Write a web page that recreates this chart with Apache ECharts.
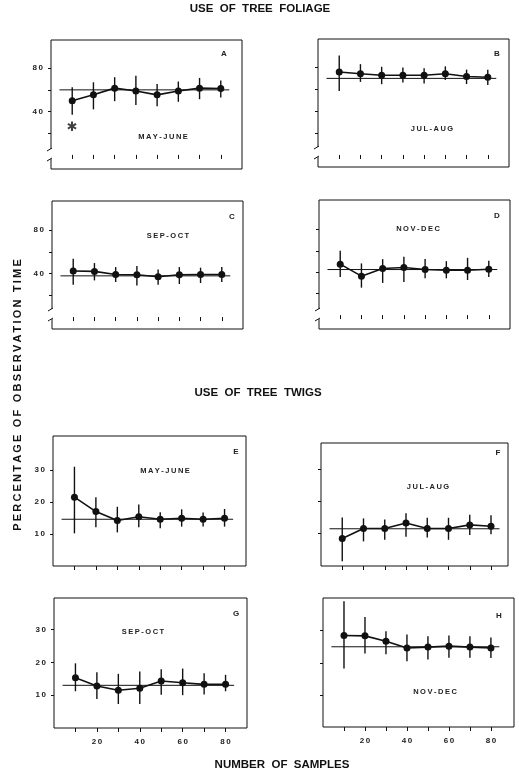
<!DOCTYPE html>
<html><head><meta charset="utf-8">
<script src="https://cdn.jsdelivr.net/npm/echarts@6/dist/echarts.min.js"></script>
<style>html,body{margin:0;padding:0;background:#fff}#c{width:519px;height:775px}</style>
</head><body><div id="c"></div>
<script>
// ---------- DATA ----------
const samples = [10, 20, 30, 40, 50, 60, 70, 80];
const panelIds = ['A', 'B', 'C', 'D', 'E', 'F', 'G', 'H'];
const periods = ['MAY-JUNE', 'JUL-AUG', 'SEP-OCT', 'NOV-DEC', 'MAY-JUNE', 'JUL-AUG', 'SEP-OCT', 'NOV-DEC'];

const meanA = [50, 55.4, 61.6, 59, 55.4, 59, 61.6, 61.2];
const lowA  = [37, 42, 49.6, 46, 45, 49, 51.4, 53];
const highA = [62.5, 67, 71.7, 73, 65.5, 67.7, 71, 68.6];

const meanB = [75.8, 74.3, 72.8, 72.8, 72.8, 74.3, 71.7, 71.1];
const lowB  = [58.5, 66.8, 64.7, 66.3, 65.4, 68.6, 64.8, 64];
const highB = [91, 83, 80.6, 79.9, 79.3, 81, 78, 78];

const meanC = [42.4, 42.1, 39.3, 39, 37.2, 39, 39.3, 39.3];
const lowC  = [29.8, 33.8, 32.3, 29.2, 29.9, 30.5, 31.4, 32.3];
const highC = [53.8, 49.8, 46.1, 47, 43.9, 46.1, 45.5, 46.1];

const meanD = [47.5, 36.3, 43.4, 44.4, 42.5, 41.9, 41.9, 42.8];
const lowD  = [35.6, 25.6, 30, 30.9, 34.3, 34.3, 32.7, 35.6];
const highD = [60, 48.2, 52.2, 54.4, 52.4, 50.3, 53.4, 50.6];

const meanE = [21.5, 17, 14.2, 15.4, 14.6, 14.9, 14.6, 14.9];
const lowE  = [10.2, 12.1, 10.5, 12.1, 11.8, 12.3, 12.3, 12.3];
const highE = [31, 21.5, 18.5, 19.2, 16.8, 17.7, 16.7, 17.8];

const meanF = [8.5, 11.6, 11.6, 13.3, 11.6, 11.6, 12.7, 12.3];
const lowF  = [1.5, 7.6, 8.1, 9, 8.8, 8.1, 9.6, 9.8];
const highF = [15, 14.7, 14.4, 16.3, 14.9, 14.9, 15.8, 15.7];

const meanG = [15.3, 12.8, 11.5, 12.1, 14.3, 13.8, 13.3, 13.3];
const lowG  = [11.2, 8.8, 7.3, 7.3, 10.1, 10, 10.2, 11.2];
const highG = [19.7, 17, 16.5, 17.2, 17.9, 18.1, 16.7, 16.2];

const meanH = [28.5, 28.4, 26.7, 24.6, 24.9, 25.2, 24.9, 24.6];
const lowH  = [18.2, 22.9, 22.7, 20.5, 21, 21.6, 21.6, 21.5];
const highH = [39.2, 34.3, 29.8, 28.8, 28.3, 28.5, 28.3, 27.9];

const overallMean = [60, 70, 38, 42.5, 14.6, 11.5, 13, 25];
const refLineSpan = [4, 84];
const asteriskPoint = [10, 25];

const foliageTicks = [20, 40, 60, 80];
const foliageLabels = [40, 80];
const twigTicks = [10, 20, 30];
const twigLabels = [10, 20, 30];
const sampleLabels = [20, 40, 60, 80];

const means = [meanA, meanB, meanC, meanD, meanE, meanF, meanG, meanH];
const lows = [lowA, lowB, lowC, lowD, lowE, lowF, lowG, lowH];
const highs = [highA, highB, highC, highD, highE, highF, highG, highH];

// ---------- LAYOUT ----------
const layout = [
  {l:51,  t:40,  w:191, h:129, ymin:-13, ymax:106,   xmax:90, lbl:[224,54],  per:[163,137], foliage:true, yl:true,  xl:false},
  {l:318, t:39,  w:191, h:128, ymin:-11, ymax:106,   xmax:90, lbl:[497,54],  per:[432,129], foliage:true, yl:false, xl:false},
  {l:52,  t:201, w:191, h:128, ymin:-11, ymax:107,   xmax:90, lbl:[232,217], per:[168,236], foliage:true, yl:true,  xl:false},
  {l:319, t:200, w:191, h:129, ymin:-13, ymax:107.4, xmax:90, lbl:[497,216], per:[418,229], foliage:true, yl:false, xl:false},
  {l:53,  t:436, w:193, h:130, ymin:0,   ymax:40.6,  xmax:90, lbl:[236,452], per:[165,471], foliage:false, yl:true,  xl:false},
  {l:321, t:443, w:187, h:123, ymin:0,   ymax:38,    xmax:88, lbl:[498,453], per:[428,487], foliage:false, yl:false, xl:false},
  {l:54,  t:598, w:193, h:130, ymin:0,   ymax:39.6,  xmax:90, lbl:[236,614], per:[143,632], foliage:false, yl:true,  xl:true},
  {l:323, t:598, w:191, h:129, ymin:0,   ymax:40.2,  xmax:91, lbl:[499,616], per:[435,692], foliage:false, yl:false, xl:true}
];

const FONT = 'Liberation Sans';
const INK = '#111';
const sp = (s) => s.split('').join('\u2009');

const grids = [], xAxes = [], yAxes = [], series = [], graphics = [];

layout.forEach((L, i) => {
  grids.push({left: L.l, top: L.t, width: L.w, height: L.h, show: true, borderColor: INK, borderWidth: 1, backgroundColor: 'transparent'});
  xAxes.push({
    type: 'value', gridIndex: i, min: 0, max: L.xmax,
    axisLine: {show: false}, splitLine: {show: false},
    axisTick: {show: true, inside: false, length: 4, customValues: samples, lineStyle: {color: INK, width: 1}},
    axisLabel: {show: L.xl, customValues: sampleLabels, formatter: v => sp(String(v)), fontFamily: FONT, fontSize: 8, fontWeight: 'bold', color: '#222', margin: 10}
  });
  yAxes.push({
    type: 'value', gridIndex: i, min: L.ymin, max: L.ymax,
    axisLine: {show: false}, splitLine: {show: false},
    axisTick: {show: true, inside: false, length: 3, customValues: L.foliage ? foliageTicks : twigTicks, lineStyle: {color: INK, width: 1}},
    axisLabel: {show: L.yl, customValues: L.foliage ? foliageLabels : twigLabels, formatter: v => sp(String(v)), fontFamily: FONT, fontSize: 8, fontWeight: 'bold', color: '#222', margin: 8}
  });
  // overall mean reference line
  series.push({
    type: 'line', xAxisIndex: i, yAxisIndex: i, silent: true, symbol: 'none',
    data: [[refLineSpan[0], overallMean[i]], [refLineSpan[1], overallMean[i]]],
    lineStyle: {color: INK, width: 1}, z: 2
  });
  // error bars
  series.push({
    type: 'custom', xAxisIndex: i, yAxisIndex: i, silent: true,
    data: samples.map((x, k) => [x, lows[i][k], highs[i][k]]),
    renderItem: (params, api) => {
      const a = api.coord([api.value(0), api.value(1)]);
      const b = api.coord([api.value(0), api.value(2)]);
      return {type: 'line', shape: {x1: a[0], y1: a[1], x2: b[0], y2: b[1]}, style: {stroke: INK, lineWidth: 1.4}};
    },
    z: 3
  });
  // mean line with points
  series.push({
    type: 'line', xAxisIndex: i, yAxisIndex: i, silent: true,
    data: samples.map((x, k) => [x, means[i][k]]),
    symbol: 'circle', symbolSize: 7, itemStyle: {color: INK},
    lineStyle: {color: INK, width: 1.6}, z: 4
  });
  // panel letter and period
  graphics.push({type: 'text', x: L.lbl[0], y: L.lbl[1], style: {text: panelIds[i], font: 'bold 8px ' + FONT, fill: '#222', align: 'center', verticalAlign: 'middle'}});
  graphics.push({type: 'text', x: L.per[0], y: L.per[1], style: {text: sp(periods[i]), font: 'bold 7.5px ' + FONT, fill: '#222', align: 'center', verticalAlign: 'middle'}});
  // axis break on foliage panels
  if (L.foliage) {
    const yb = L.t + L.h;
    graphics.push({type: 'rect', shape: {x: L.l - 2, y: yb - 20, width: 4, height: 10}, style: {fill: '#fff'}, z: 100});
    graphics.push({type: 'line', shape: {x1: L.l - 4, y1: yb - 18, x2: L.l + 1, y2: yb - 21}, style: {stroke: INK, lineWidth: 1}, z: 101});
    graphics.push({type: 'line', shape: {x1: L.l - 4, y1: yb - 8, x2: L.l + 1, y2: yb - 11}, style: {stroke: INK, lineWidth: 1}, z: 101});
  }
});

// asterisk in panel A
series.push({
  type: 'scatter', xAxisIndex: 0, yAxisIndex: 0, silent: true,
  data: [asteriskPoint], symbolSize: 0,
  label: {show: true, position: 'inside', formatter: '\u2731', fontFamily: 'DejaVu Sans', fontSize: 13, color: INK}
});

// titles
graphics.push({type: 'text', x: 260, y: 9, style: {text: 'USE  OF  TREE  FOLIAGE', font: 'bold 11.5px ' + FONT, fill: '#111', align: 'center', verticalAlign: 'middle'}});
graphics.push({type: 'text', x: 258, y: 393, style: {text: 'USE  OF  TREE  TWIGS', font: 'bold 11.5px ' + FONT, fill: '#111', align: 'center', verticalAlign: 'middle'}});
graphics.push({type: 'text', x: 282, y: 765, style: {text: 'NUMBER  OF  SAMPLES', font: 'bold 11.5px ' + FONT, fill: '#111', align: 'center', verticalAlign: 'middle'}});
graphics.push({type: 'text', x: 18, y: 395, rotation: Math.PI / 2, style: {text: sp('PERCENTAGE OF OBSERVATION TIME'), font: 'bold 11px ' + FONT, fill: '#111', align: 'center', verticalAlign: 'middle'}});

const chart = echarts.init(document.getElementById('c'), null, {renderer: 'canvas'});
chart.setOption({
  animation: false,
  backgroundColor: '#fff',
  grid: grids, xAxis: xAxes, yAxis: yAxes, series: series, graphic: graphics
});
</script></body></html>
